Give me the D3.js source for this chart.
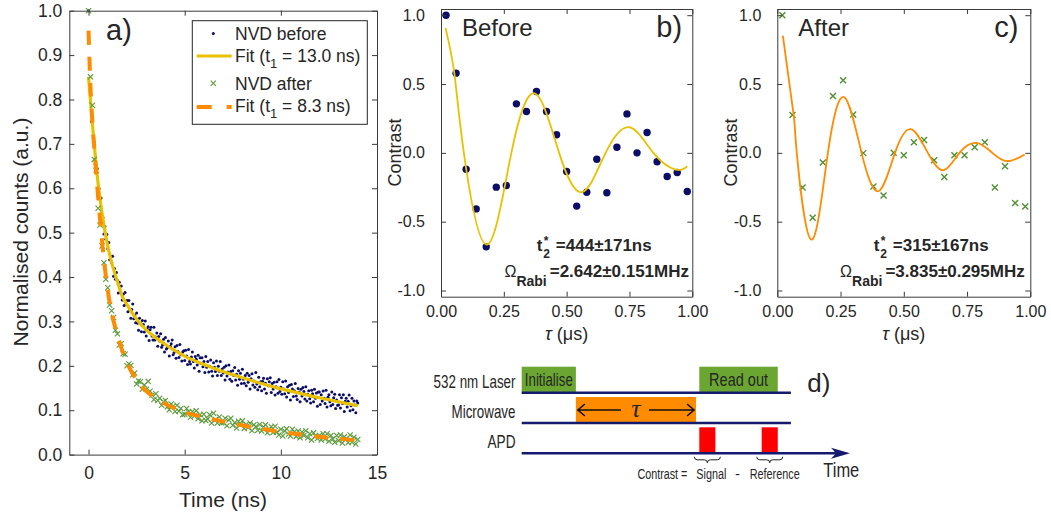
<!DOCTYPE html>
<html>
<head>
<script src="https://d3js.org/d3.v7.min.js"></script>
<style>
  body { margin: 0; background: #fff; }
  svg text { fill: #262626; font-family: "Liberation Sans", Arial, sans-serif; }
  .axis path, .axis line { stroke: #3a3a3a; }
</style>
</head>
<body>
<svg id="fig" width="1051" height="513"></svg>
<script>
// ---------- panel a: normalised counts vs time (ns) ----------
const timeStepBefore = 0.05;   // sampling of NVD before
const countsBefore = [
  1.000,0.870,0.793,0.750,0.760,0.715,0.704,0.654,0.651,0.644,0.599,0.599,0.575,0.578,0.532,0.534,0.497,0.514,0.485,0.496,
  0.464,0.478,0.439,0.447,0.432,0.447,0.402,0.419,0.395,0.410,0.392,0.364,0.388,0.366,0.380,0.348,0.361,0.336,0.365,0.339,
  0.347,0.322,0.347,0.326,0.307,0.327,0.339,0.306,0.314,0.297,0.319,0.296,0.280,0.307,0.296,0.277,0.302,0.293,0.276,0.301,
  0.267,0.283,0.288,0.257,0.281,0.287,0.267,0.258,0.287,0.258,0.265,0.274,0.244,0.266,0.256,0.272,0.242,0.247,0.260,0.231,
  0.264,0.238,0.241,0.256,0.222,0.244,0.250,0.258,0.225,0.230,0.243,0.217,0.246,0.232,0.219,0.248,0.225,0.211,0.231,0.234,
  0.212,0.235,0.222,0.203,0.237,0.210,0.204,0.220,0.231,0.210,0.195,0.221,0.215,0.202,0.224,0.188,0.218,0.205,0.218,0.198,
  0.210,0.185,0.221,0.197,0.210,0.186,0.199,0.213,0.188,0.177,0.207,0.197,0.187,0.211,0.178,0.199,0.188,0.210,0.178,0.193,
  0.184,0.197,0.168,0.200,0.177,0.186,0.202,0.170,0.187,0.165,0.189,0.178,0.196,0.168,0.181,0.156,0.189,0.170,0.183,0.160,
  0.192,0.170,0.161,0.178,0.155,0.183,0.163,0.178,0.148,0.171,0.182,0.157,0.166,0.152,0.185,0.159,0.146,0.174,0.153,0.164,
  0.144,0.165,0.172,0.148,0.161,0.138,0.171,0.155,0.164,0.173,0.140,0.160,0.148,0.163,0.134,0.153,0.164,0.138,0.169,0.142,
  0.152,0.136,0.164,0.148,0.137,0.166,0.130,0.153,0.140,0.156,0.123,0.158,0.148,0.131,0.144,0.160,0.132,0.124,0.149,0.141,
  0.119,0.147,0.132,0.151,0.142,0.125,0.153,0.121,0.136,0.144,0.126,0.116,0.145,0.137,0.119,0.147,0.127,0.139,0.109,0.141,
  0.141,0.113,0.135,0.121,0.143,0.127,0.115,0.145,0.107,0.129,0.135,0.119,0.110,0.141,0.113,0.128,0.136,0.104,0.123,0.111,
  0.112,0.135,0.105,0.128,0.115,0.135,0.097,0.120,0.127,0.107,0.120,0.134,0.099,0.110,0.127,0.101,0.121,0.112,0.094,0.121,
  0.116
];
const timeStepAfter = 0.1;     // sampling of NVD after
const countsAfter = [
  1.000,0.851,0.787,0.665,0.640,0.555,0.517,0.470,0.432,0.395,
  0.376,0.337,0.324,0.309,0.280,0.272,0.247,0.250,0.227,0.226,
  0.200,0.204,0.201,0.180,0.184,0.159,0.166,0.164,0.147,0.157,
  0.147,0.165,0.143,0.134,0.124,0.137,0.122,0.127,0.111,0.119,
  0.122,0.108,0.101,0.114,0.109,0.097,0.111,0.098,0.104,0.090,
  0.091,0.104,0.096,0.084,0.097,0.087,0.099,0.081,0.090,0.076,
  0.091,0.077,0.080,0.090,0.071,0.093,0.079,0.071,0.085,0.072,
  0.072,0.082,0.065,0.078,0.082,0.066,0.072,0.060,0.075,0.067,
  0.076,0.059,0.068,0.061,0.071,0.054,0.067,0.063,0.055,0.068,
  0.053,0.062,0.067,0.049,0.057,0.063,0.050,0.064,0.051,0.044,
  0.057,0.042,0.053,0.058,0.046,0.042,0.057,0.051,0.041,0.053,
  0.038,0.051,0.043,0.054,0.038,0.047,0.033,0.049,0.042,0.036,
  0.043,0.033,0.047,0.035,0.047,0.030,0.043,0.035,0.028,0.043,
  0.032,0.044,0.026,0.040,0.036,0.027,0.044,0.028,0.039,0.024,
  0.034
];
const fitBeforeTime  = [0,0.25,0.5,0.75,1,1.25,1.5,1.75,2,2.5,3,3.5,4,4.5,5,6,7,8,9,10,11,12,13,14];
const fitBeforeValue = [0.851,0.72,0.61,0.53,0.47,0.425,0.39,0.357,0.338,0.305,0.281,0.263,0.248,0.234,0.222,0.203,0.187,0.173,0.160,0.148,0.138,0.128,0.119,0.110];
const fitAfterTime  = [0,0.1,0.2,0.3,0.5,0.75,1,1.25,1.5,1.75,2,2.5,3,3.5,4,4.7,6,7.5,9,10.5,12,14];
const fitAfterValue = [0.955,0.83,0.75,0.69,0.58,0.46,0.37,0.31,0.27,0.235,0.207,0.168,0.143,0.127,0.114,0.100,0.084,0.070,0.058,0.048,0.040,0.032];
const countTicksX = [0,5,10,15];
const countTicksY = [0,0.1,0.2,0.3,0.4,0.5,0.6,0.7,0.8,0.9,1.0];

// ---------- panels b, c: Rabi contrast vs tau (us) ----------
const tauValues = [0.02,0.06,0.10,0.14,0.18,0.22,0.26,0.30,0.34,0.38,0.42,0.46,0.50,0.54,0.58,0.62,0.66,0.70,0.74,0.78,0.82,0.86,0.90,0.94,0.98];
const contrastBefore = [1.00,0.579,-0.119,-0.407,-0.683,-0.249,-0.237,0.356,0.30,0.446,0.30,0.131,-0.136,-0.387,-0.286,-0.046,-0.29,0.041,0.283,0.0,0.148,-0.065,-0.172,-0.143,-0.281];
const contrastAfter  = [1.00,0.275,-0.251,-0.471,-0.07,0.413,0.527,0.278,-0.002,-0.244,-0.309,0.0,-0.017,0.077,0.094,-0.053,-0.176,-0.017,-0.017,0.041,0.077,-0.251,-0.097,-0.365,-0.389];
const rabiFitBeforeTau = [0.018,0.053,0.091,0.182,0.280,0.375,0.470,0.562,0.655,0.750,0.845,0.933,0.980];
const rabiFitBeforeVal = [0.908,0.58,0,-0.666,0,0.431,0,-0.286,0,0.186,0,-0.121,-0.097];
const rabiFitAfterTau = [0.022,0.065,0.077,0.134,0.200,0.265,0.333,0.400,0.465,0.528,0.595,0.658,0.720,0.787,0.850,0.909,0.978];
const rabiFitAfterVal = [0.852,0.27,0,-0.630,0,0.404,0,-0.279,0,0.172,0,-0.126,0,0.072,0,-0.061,-0.012];
const tauTicks = [0,0.25,0.5,0.75,1.0];
const contrastTicks = [-1,-0.5,0,0.5,1];

// ---------- panel d: pulse sequence ----------
const channels = ["532 nm Laser", "Microwave", "APD"];
const pulses = [
  {channel: "532 nm Laser", start: 0,    end: 16.5, label: "Initialise", kind: "laser"},
  {channel: "532 nm Laser", start: 54.1, end: 78,   label: "Read out",   kind: "laser"},
  {channel: "Microwave",    start: 16.5, end: 53.1, label: "",           kind: "mw"},
  {channel: "APD",          start: 54.1, end: 59,   label: "",           kind: "apd"},
  {channel: "APD",          start: 73.1, end: 78,   label: "",           kind: "apd"}
];
const lineEnd = 82, arrowTip = 100;

const colors = {blue: "#0b0d66", yellow: "#e8c200", green: "#5a9a3a", orange: "#ff8c00",
                laser: "#6aa631", mw: "#ff8c00", apd: "#ff0000", navy: "#141a6e"};
// the diagram uses a condensed face; text is squeezed horizontally to these widths
const narrowWidth = {"532 nm Laser": 82, "Microwave": 64, "APD": 28, "Initialise": 48, "Read out": 59,
                     "Contrast =": 50, "Signal": 30, "Reference": 50, "Time": 36};

const svg = d3.select("#fig");

function styleAxis(g, size) {
  g.attr("class", "axis");
  g.selectAll("text").style("font-size", size + "px").attr("fill", "#262626");
}

function boxAxes(x, y, xt, yt, fx, fy, size, padX, padY) {
  const [l, r] = x.range(), [b, t] = y.range();
  svg.append("g").attr("transform", `translate(0,${b})`)
    .call(d3.axisBottom(x).tickValues(xt).tickFormat(fx).tickSize(-5).tickSizeOuter(0).tickPadding(padX))
    .call(g => styleAxis(g, size));
  svg.append("g").attr("transform", `translate(0,${t})`)
    .call(d3.axisTop(x).tickValues(xt).tickFormat("").tickSize(-5).tickSizeOuter(0))
    .call(g => styleAxis(g, size));
  svg.append("g").attr("transform", `translate(${l},0)`)
    .call(d3.axisLeft(y).tickValues(yt).tickFormat(fy).tickSize(-5).tickSizeOuter(0).tickPadding(padY))
    .call(g => styleAxis(g, size));
  svg.append("g").attr("transform", `translate(${r},0)`)
    .call(d3.axisRight(y).tickValues(yt).tickFormat("").tickSize(-5).tickSizeOuter(0))
    .call(g => styleAxis(g, size));
}

const crossPath = s => `M${-s},${-s}L${s},${s}M${-s},${s}L${s},${-s}`;

// ================= panel a =================
const xA = d3.scaleLinear().domain([-1, 15]).range([69.3, 377]);
const yA = d3.scaleLinear().domain([0, 1]).range([454.6, 10.7]);

const gA = svg.append("g");
gA.selectAll("circle.before").data(countsBefore).join("circle")
  .attr("cx", (d, i) => xA(i * timeStepBefore)).attr("cy", d => yA(d))
  .attr("r", 1.5).attr("fill", colors.blue);

const lineA = d3.line().curve(d3.curveMonotoneX);
gA.append("path")
  .attr("d", lineA(fitBeforeTime.map((t, i) => [xA(t), yA(fitBeforeValue[i])])))
  .attr("fill", "none").attr("stroke", colors.yellow).attr("stroke-width", 3.2);

gA.selectAll("path.after").data(countsAfter).join("path")
  .attr("transform", (d, i) => `translate(${xA(i * timeStepAfter)},${yA(d)})`)
  .attr("d", crossPath(2.6)).attr("stroke", colors.green).attr("stroke-width", 1.1).attr("fill", "none");

gA.append("path")
  .attr("d", lineA(fitAfterTime.map((t, i) => [xA(t), yA(fitAfterValue[i])])))
  .attr("fill", "none").attr("stroke", colors.orange).attr("stroke-width", 4)
  .attr("stroke-dasharray", "14,12");

boxAxes(xA, yA, countTicksX, countTicksY, d3.format("d"), d => d.toFixed(1), 17.5, 12, 7);

svg.append("text").attr("x", 223).attr("y", 507).attr("text-anchor", "middle")
  .style("font-size", "21px").text("Time (ns)");
svg.append("text").attr("transform", "translate(28,232) rotate(-90)").attr("text-anchor", "middle")
  .style("font-size", "21px").text("Normalised counts (a.u.)");
svg.append("text").attr("x", 106).attr("y", 40).style("font-size", "29px").text("a)");

// legend
const lg = svg.append("g");
lg.append("rect").attr("x", 192.3).attr("y", 20.7).attr("width", 175).attr("height", 103.6)
  .attr("fill", "#fff").attr("stroke", "#262626").attr("stroke-width", 1);
lg.append("circle").attr("cx", 213.3).attr("cy", 33.5).attr("r", 1.5).attr("fill", colors.blue);
lg.append("line").attr("x1", 196.7).attr("x2", 231.7).attr("y1", 56).attr("y2", 56)
  .attr("stroke", colors.yellow).attr("stroke-width", 3.2);
lg.append("path").attr("transform", "translate(213.3,83.3)").attr("d", crossPath(2.6))
  .attr("stroke", colors.green).attr("stroke-width", 1.1);
lg.append("line").attr("x1", 196.7).attr("x2", 231.7).attr("y1", 107).attr("y2", 107)
  .attr("stroke", colors.orange).attr("stroke-width", 4).attr("stroke-dasharray", "15,15");
const legendRows = [
  {y: 40, main: "NVD before"},
  {y: 62, main: "Fit (t", sub: "1", rest: " = 13.0 ns)"},
  {y: 90, main: "NVD after"},
  {y: 112, main: "Fit (t", sub: "1", rest: " = 8.3 ns)"}
];
legendRows.forEach(r => {
  const t = lg.append("text").attr("x", 235).attr("y", r.y).style("font-size", "17.5px");
  t.append("tspan").text(r.main);
  if (r.sub) {
    t.append("tspan").attr("dy", 6).style("font-size", "13px").text(r.sub);
    t.append("tspan").attr("dy", -6).text(r.rest);
  }
});

// ================= panels b, c =================
function rabiPanel(cfg) {
  const x = d3.scaleLinear().domain([0, 1]).range([cfg.left, cfg.right]);
  const y = d3.scaleLinear().domain([-1.045, 1.045]).range([296.7, 9]);
  const g = svg.append("g");
  if (cfg.marker === "dot") {
    g.selectAll("circle").data(cfg.values).join("circle")
      .attr("cx", (d, i) => x(tauValues[i])).attr("cy", d => y(d))
      .attr("r", 3.7).attr("fill", cfg.markerColor);
  } else {
    g.selectAll("path.m").data(cfg.values).join("path")
      .attr("transform", (d, i) => `translate(${x(tauValues[i])},${y(d)})`)
      .attr("d", crossPath(3)).attr("stroke", cfg.markerColor).attr("stroke-width", 1.4);
  }
  g.append("path")
    .attr("d", d3.line().curve(d3.curveNatural)(cfg.fitTau.map((t, i) => [x(t), y(cfg.fitVal[i])])))
    .attr("fill", "none").attr("stroke", cfg.fitColor).attr("stroke-width", 1.8);

  boxAxes(x, y, tauTicks, contrastTicks, d => d.toFixed(2), d => d.toFixed(1), 16, 9, 16);

  svg.append("text").attr("transform", `translate(${cfg.left - 40},152.5) rotate(-90)`)
    .attr("text-anchor", "middle").style("font-size", "18px").text("Contrast");
  const xl = svg.append("text").attr("x", x(0.5)).attr("y", 340).attr("text-anchor", "middle")
    .style("font-size", "18px");
  xl.append("tspan").style("font-style", "italic").text("τ");
  xl.append("tspan").text(" (μs)");

  svg.append("text").attr("x", cfg.left + 21).attr("y", 36).style("font-size", "24px").text(cfg.title);
  svg.append("text").attr("x", cfg.right - 36).attr("y", 37).style("font-size", "29px").text(cfg.tag);

  // t2* line
  const l1 = svg.append("text").attr("x", cfg.line1End).attr("y", 251).attr("text-anchor", "end")
    .style("font-size", "17px").style("font-weight", "bold").text(cfg.t2);
  const s1 = l1.node().getBBox().x;
  svg.append("text").attr("x", s1 - 19).attr("y", 251).style("font-size", "17px").style("font-weight", "bold").text("t");
  svg.append("text").attr("x", s1 - 12).attr("y", 245).style("font-size", "12px").style("font-weight", "bold").text("*");
  svg.append("text").attr("x", s1 - 12.5).attr("y", 258).style("font-size", "12px").style("font-weight", "bold").text("2");
  // Omega line
  const l2 = svg.append("text").attr("x", cfg.line2End).attr("y", 276.7).attr("text-anchor", "end")
    .style("font-size", "17px").style("font-weight", "bold").text(cfg.rabi);
  const s2 = l2.node().getBBox().x;
  const sub = svg.append("text").attr("x", s2 - 3).attr("y", 286).attr("text-anchor", "end")
    .style("font-size", "14px").style("font-weight", "bold").text("Rabi");
  const s3 = sub.node().getBBox().x;
  svg.append("text").attr("x", s3).attr("y", 276.7).attr("text-anchor", "end")
    .style("font-size", "16px").text("Ω");
}

rabiPanel({left: 441, right: 692.3, values: contrastBefore, marker: "dot", markerColor: colors.blue,
  fitTau: rabiFitBeforeTau, fitVal: rabiFitBeforeVal, fitColor: colors.yellow,
  title: "Before", tag: "b)", t2: "=444±171ns", rabi: "=2.642±0.151MHz", line1End: 651.7, line2End: 689});
rabiPanel({left: 777.3, right: 1030.3, values: contrastAfter, marker: "cross", markerColor: "#4f9133",
  fitTau: rabiFitAfterTau, fitVal: rabiFitAfterVal, fitColor: colors.orange,
  title: "After", tag: "c)", t2: "=315±167ns", rabi: "=3.835±0.295MHz", line1End: 988.7, line2End: 1024.7});

// ================= panel d =================
const dX = d3.scaleLinear().domain([0, 100]).range([521.7, 850]);
const dY = d3.scalePoint().domain(channels).range([392.7, 453.3]);
const pulseH = 26;
const gD = svg.append("g");

// squeeze a text horizontally about its anchor point (x, y)
function narrowText(sel) {
  sel.each(function () {
    const t = d3.select(this);
    const x = +t.attr("x"), y = +t.attr("y");
    const s = narrowWidth[this.textContent] / this.getComputedTextLength();
    t.attr("x", 0).attr("y", 0).attr("transform", `translate(${x},${y}) scale(${s},1)`);
  });
}

gD.selectAll("rect.pulse").data(pulses).join("rect")
  .attr("x", d => dX(d.start)).attr("width", d => dX(d.end) - dX(d.start))
  .attr("y", d => dY(d.channel) - pulseH).attr("height", pulseH)
  .attr("fill", d => colors[d.kind]);
gD.selectAll("text.plabel").data(pulses.filter(p => p.label)).join("text")
  .attr("x", d => (dX(d.start) + dX(d.end)) / 2).attr("y", d => dY(d.channel) - 7)
  .attr("text-anchor", "middle").style("font-size", "18px").attr("fill", "#1a1a1a").text(d => d.label)
  .call(narrowText);

channels.slice(0, 2).forEach(c => {
  gD.append("line").attr("x1", dX(0)).attr("x2", dX(lineEnd)).attr("y1", dY(c)).attr("y2", dY(c))
    .attr("stroke", colors.navy).attr("stroke-width", 2.4);
});
const apdY = dY("APD");
gD.append("line").attr("x1", dX(0)).attr("x2", dX(arrowTip) - 8).attr("y1", apdY).attr("y2", apdY)
  .attr("stroke", colors.navy).attr("stroke-width", 2.4);
gD.append("path")
  .attr("d", `M${dX(arrowTip)},${apdY}L${dX(arrowTip) - 19},${apdY - 5.5}L${dX(arrowTip) - 14},${apdY}L${dX(arrowTip) - 19},${apdY + 5.5}Z`)
  .attr("fill", colors.navy);

gD.selectAll("text.chan").data(channels).join("text")
  .attr("x", 515.5).attr("y", d => dY(d) - 5).attr("text-anchor", "end")
  .style("font-size", "18px").attr("fill", "#1a1a1a").text(d => d)
  .call(narrowText);

// tau arrows in microwave pulse
const mw = pulses.find(p => p.kind === "mw");
const mwL = dX(mw.start), mwR = dX(mw.end), mwC = (mwL + mwR) / 2, mwY = dY("Microwave") - 13;
gD.append("path")
  .attr("d", `M${mwL + 2},${mwY}L${mwC - 15},${mwY}M${mwL + 9},${mwY - 6}L${mwL + 2},${mwY}L${mwL + 9},${mwY + 6}` +
             `M${mwC + 13},${mwY}L${mwR - 2},${mwY}M${mwR - 9},${mwY - 6}L${mwR - 2},${mwY}L${mwR - 9},${mwY + 6}`)
  .attr("stroke", "#111").attr("stroke-width", 1.6).attr("fill", "none");
gD.append("text").attr("x", mwC).attr("y", mwY + 7).attr("text-anchor", "middle")
  .style("font-size", "26px").style("font-style", "italic")
  .style("font-family", "'Liberation Serif', 'DejaVu Serif', serif").attr("fill", "#111").text("τ");

// braces under APD pulses
pulses.filter(p => p.kind === "apd").forEach(p => {
  const c = (dX(p.start) + dX(p.end)) / 2, w = 13, y0 = apdY + 3.5;
  gD.append("path")
    .attr("d", `M${c - w},${y0}q0,3 3,3L${c - 3},${y0 + 3}q3,0 3,3q0,-3 3,-3L${c + w - 3},${y0 + 3}q3,0 3,-3`)
    .attr("fill", "none").attr("stroke", "#222").attr("stroke-width", 1);
});
const apdPulses = pulses.filter(p => p.kind === "apd");
const cSig = (dX(apdPulses[0].start) + dX(apdPulses[0].end)) / 2;
const cRef = (dX(apdPulses[1].start) + dX(apdPulses[1].end)) / 2;
gD.append("text").attr("x", cSig - 20).attr("y", 479.3).attr("text-anchor", "end")
  .style("font-size", "15px").attr("fill", "#1a1a1a").text("Contrast =").call(narrowText);
gD.append("text").attr("x", cSig + 4).attr("y", 479.3).attr("text-anchor", "middle")
  .style("font-size", "15px").attr("fill", "#1a1a1a").text("Signal").call(narrowText);
gD.append("text").attr("x", (cSig + cRef) / 2 - 1).attr("y", 479.3).attr("text-anchor", "middle")
  .style("font-size", "15px").attr("fill", "#1a1a1a").text("-");
gD.append("text").attr("x", cRef + 5).attr("y", 479.3).attr("text-anchor", "middle")
  .style("font-size", "15px").attr("fill", "#1a1a1a").text("Reference").call(narrowText);
gD.append("text").attr("x", 823.3).attr("y", 477.3)
  .style("font-size", "21px").attr("fill", "#111").text("Time").call(narrowText);
gD.append("text").attr("x", 807.3).attr("y", 392).style("font-size", "26px").attr("fill", "#111").text("d)");
</script>
</body>
</html>
